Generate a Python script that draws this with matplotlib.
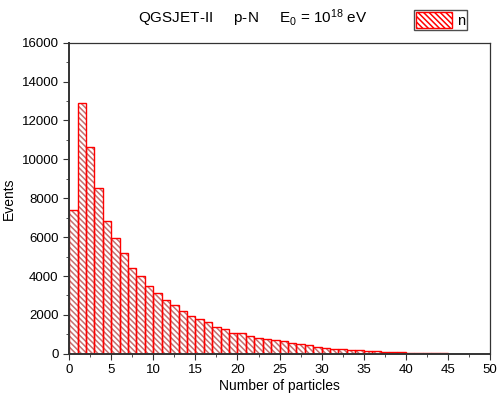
import matplotlib.pyplot as plt
import numpy as np
from matplotlib.patches import Patch

# bin left edges (width 1) and counts
bin_edges = np.arange(0, 46)
counts = [7400, 12900, 10650, 8520, 6850, 5950, 5200, 4400, 3980, 3480,
          3150, 2780, 2490, 2200, 1970, 1780, 1630, 1370, 1300, 1080,
          1050, 910, 820, 760, 720, 670, 550, 500, 430, 360,
          310, 260, 230, 200, 180, 160, 140, 110, 100, 90,
          50, 40, 30, 25, 20]

plt.rcParams['font.family'] = ['Liberation Sans', 'DejaVu Sans']
plt.rcParams['mathtext.fontset'] = 'custom'
plt.rcParams['mathtext.rm'] = 'Liberation Sans'
plt.rcParams['mathtext.default'] = 'regular'
plt.rcParams['hatch.linewidth'] = 1.1

hatch_col = '#c47070'
hatch = '\\' * 6

fig = plt.figure(figsize=(4.97, 4.03), dpi=100)
ax = fig.add_axes([0.139, 0.122, 0.847, 0.772])

# hatch layer, then red outlines on top
ax.hist(bin_edges[:-1], bins=bin_edges, weights=counts,
        facecolor='white', edgecolor=hatch_col, hatch=hatch, linewidth=0)
ax.hist(bin_edges[:-1], bins=bin_edges, weights=counts,
        histtype='bar', facecolor='none', edgecolor='red', linewidth=1.0)

ax.set_xlim(0, 50)
ax.set_ylim(0, 16000)
ax.set_xticks(np.arange(0, 51, 5))
ax.set_xticks(np.arange(0, 51, 2.5), minor=True)
ax.set_yticks(np.arange(0, 16001, 2000))
ax.set_yticks(np.arange(0, 16001, 1000), minor=True)
ax.tick_params(which='both', direction='out', labelsize=9.5, color='#333333')
ax.tick_params(which='major', length=4)
ax.tick_params(which='minor', length=2.5)
for s in ax.spines.values():
    s.set_color('#333333')
    s.set_linewidth(0.9)
ax.spines['left'].set_linewidth(1.4)
ax.spines['bottom'].set_linewidth(1.4)

ax.set_xlabel('Number of particles', fontsize=10, labelpad=2)
ax.set_ylabel('Events', fontsize=10, labelpad=4)

fig.text(0.508, 0.955, r'QGSJET-II     p-N     E$_0$ = 10$^{18}$ eV',
         ha='center', va='center', fontsize=11)

handle = Patch(facecolor='white', edgecolor='red', hatch=hatch, linewidth=1.0)
leg = ax.legend([handle], ['n'], loc='lower right', bbox_to_anchor=(0.945, 1.04),
                fontsize=10.5, frameon=True, fancybox=False,
                handlelength=2.5, handleheight=1.25, handletextpad=0.3,
                borderpad=0.15, borderaxespad=0)
leg.get_frame().set_edgecolor('#222222')
leg.get_frame().set_linewidth(1.0)

fig.savefig('out.png', dpi=100)
